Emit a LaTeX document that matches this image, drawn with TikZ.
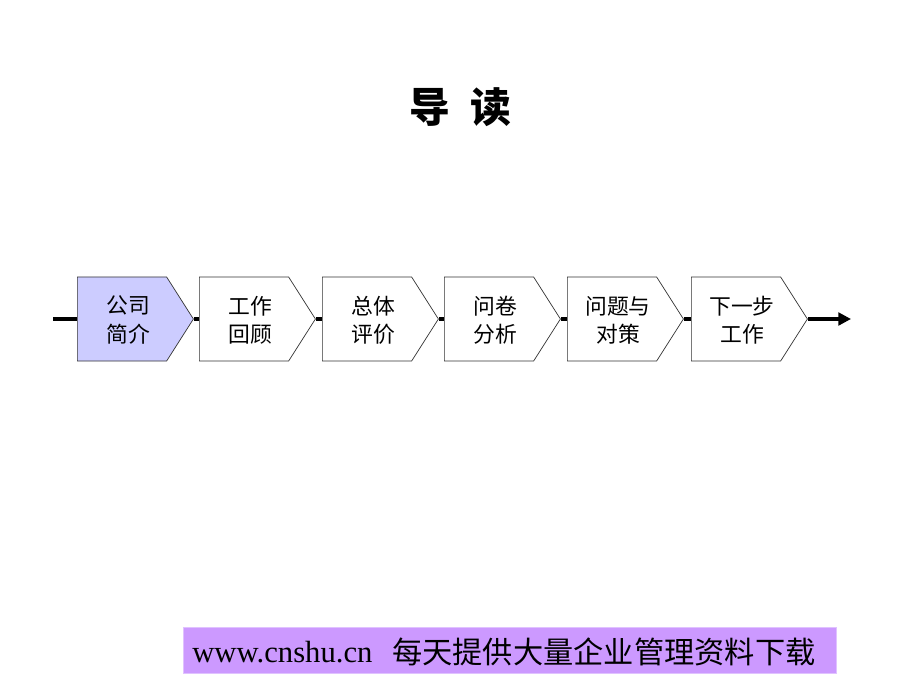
\documentclass[tikz,border=0pt]{standalone}
\usepackage{fontspec}
\setmainfont{Liberation Serif}
\newfontfamily\cjk{Noto Sans CJK SC}
\usepackage{tikz}
\usetikzlibrary{shapes.symbols,arrows.meta,positioning}

\definecolor{firstfill}{HTML}{CCCCFF}
\definecolor{bannerfill}{HTML}{CC99FF}

\tikzset{
    stagebox/.style={draw=black!80, shape=signal, signal to=east, signal from=nowhere,
        signal pointer angle=115, minimum width=2.9cm, minimum height=2.1cm, inner sep=0pt, line width=0.5pt},
    stagetext/.style={font=\cjk\fontsize{15.5}{20}\selectfont, align=center},
    flowline/.style={line width=2.2pt, black}
}

\begin{document}
\begin{tikzpicture}[x=0.025cm, y=-0.025cm]
    \useasboundingbox (0,0) rectangle (920,690);

    % Title
    \node[font=\cjk\bfseries\fontsize{29}{34}\selectfont] (title) at (460,107) {导\hspace{0.5em}读};

    % Stages
    \coordinate (start) at (53,319);
    \coordinate (end) at (851,319);
    \foreach \name/\cx/\col/\txt in {s1/135/firstfill/公司\\简介, s2/257/white/工作\\回顾, s3/380/white/总体\\评价,
                                s4/502/white/问卷\\分析, s5/625/white/问题与\\对策, s6/749/white/下一步\\工作}{
        \node[stagebox, fill=\col] (\name) at (\cx-13,319) {};
        \node[stagetext] (\name t) at (\cx-7,320) {\txt};
    }

    \draw[flowline] (start) -- (s1.west);
    \draw[flowline] (s1.east) -- (s2.west);
    \draw[flowline] (s2.east) -- (s3.west);
    \draw[flowline] (s3.east) -- (s4.west);
    \draw[flowline] (s4.east) -- (s5.west);
    \draw[flowline] (s5.east) -- (s6.west);
    \draw[flowline, -{Triangle[length=9pt, width=9pt]}] (s6.east) -- (end);

    % Banner
    \node[fill=bannerfill, draw=bannerfill!60, minimum width=16.33cm, minimum height=1.15cm, inner sep=0pt] (banner) at (509.5,650) {};
    \node[anchor=west, inner sep=0pt, font=\fontsize{21.8}{26}\selectfont] (url) at (192,652) {www.cnshu.cn};
    \node[anchor=west, inner sep=0pt, font=\cjk\fontsize{21.5}{26}\selectfont] (slogan) at (392,652) {每天提供大量企业管理资料下载};
\end{tikzpicture}
\end{document}
